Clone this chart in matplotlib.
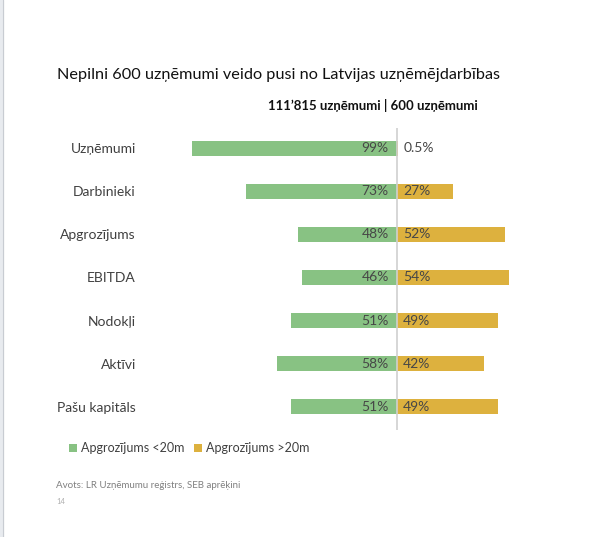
import matplotlib.pyplot as plt
from matplotlib.patches import Rectangle

plt.rcParams['font.family'] = ['Lato', 'DejaVu Sans']

categories = ['Uzņēmumi', 'Darbinieki', 'Apgrozījums', 'EBITDA', 'Nodokļi', 'Aktīvi', 'Pašu kapitāls']
small = [99, 73, 48, 46, 51, 58, 51]
large = [0.5, 27, 52, 54, 49, 42, 49]
small_labels = ['99%', '73%', '48%', '46%', '51%', '58%', '51%']
large_labels = ['0.5%', '27%', '52%', '54%', '49%', '42%', '49%']
series_names = ['Apgrozījums <20m', 'Apgrozījums >20m']

green = '#88c283'
gold = '#ddb13e'
text_col = '#404040'

W, H = 598, 537
fig = plt.figure(figsize=(W / 100, H / 100), dpi=100)

# left page edge like in the screenshot
fig.patches.append(Rectangle((0, 0), 3 / W, 1, transform=fig.transFigure,
                             color='#e8ebef', zorder=0))
fig.add_artist(plt.Line2D([3.5 / W, 3.5 / W], [0, 1], color='#c8ccd2', lw=0.8))

# axes in pixel terms: left 140, right 560, top 128, bottom 430
ax = fig.add_axes([140 / W, 1 - 430 / H, 420 / W, 302 / H])
px = 2.07  # pixels per percent
zero = 397
ax.set_xlim(-(zero - 140) / px, (560 - zero) / px)
ax.set_ylim(6 + 23 / 43, -20 / 43)

y = range(len(categories))
b1 = ax.barh(y, [-v for v in small], height=0.35, color=green, label=series_names[0])
b2 = ax.barh(y, large, height=0.35, color=gold, label=series_names[1])
ax.axvline(0, color='#d0d0d0', lw=1.2, zorder=3)

for i in y:
    ax.text(-4, i, small_labels[i], ha='right', va='center', fontsize=10, color='#474747')
    ax.text(3, i, large_labels[i], ha='left', va='center', fontsize=10, color='#474747')

ax.set_yticks(list(y))
ax.set_yticklabels(categories, fontsize=10, color=text_col)
ax.tick_params(axis='y', length=0, pad=3)
ax.set_xticks([])
for s in ax.spines.values():
    s.set_visible(False)

fig.text(57 / W, 1 - 75 / H, 'Nepilni 600 uzņēmumi veido pusi no Latvijas uzņēmējdarbības',
         fontsize=11.7, color='#111111', va='center', ha='left')
fig.text(478 / W, 1 - 106 / H, '111’815 uzņēmumi | 600 uzņēmumi',
         fontsize=9.5, fontweight='bold', color='#111111', va='center', ha='right')

fig.legend(handles=[b1, b2], loc='center left', bbox_to_anchor=(69 / W, 1 - 448 / H),
           ncol=2, frameon=False, fontsize=9, handlelength=0.6, handleheight=0.6,
           handletextpad=0.35, columnspacing=0.8, labelcolor=text_col, borderaxespad=0,
           borderpad=0)

fig.text(56 / W, 1 - 486 / H, 'Avots: LR Uzņēmumu reģistrs, SEB aprēķini',
         fontsize=7, color='#808080', va='center', ha='left')
fig.text(56 / W, 1 - 502 / H, '14', fontsize=5.5, color='#b0b0b0', va='center', ha='left')

fig.savefig('out.png', dpi=100, facecolor='white')
